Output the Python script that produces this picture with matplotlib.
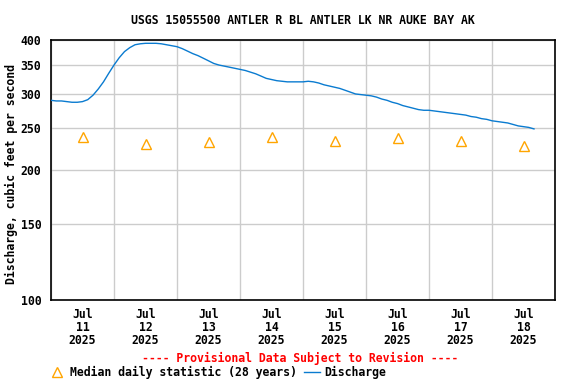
import matplotlib
matplotlib.use("Agg")
import matplotlib.pyplot as plt
import matplotlib.dates as mdates
from matplotlib.lines import Line2D
from matplotlib.ticker import FixedLocator, NullLocator, FuncFormatter
import pandas as pd

title = "USGS 15055500 ANTLER R BL ANTLER LK NR AUKE BAY AK"
ylabel = "Discharge, cubic feet per second"

# Discharge, every 2 hours starting 2025-07-11 00:00
discharge = [
    290, 289, 289, 288, 287, 287, 288, 291, 298, 308, 320, 335,   # Jul 11
    350, 364, 376, 384, 390, 392, 393, 393, 393, 392, 390, 388,   # Jul 12
    386, 382, 377, 372, 368, 363, 358, 353, 350, 348, 346, 344,   # Jul 13
    342, 340, 337, 334, 330, 326, 324, 322, 321, 320, 320, 320,   # Jul 14
    320, 321, 320, 318, 315, 313, 311, 309, 306, 303, 300, 299,   # Jul 15
    298, 297, 295, 292, 290, 287, 285, 282, 280, 278, 276, 275,   # Jul 16
    275, 274, 273, 272, 271, 270, 269, 268, 266, 265, 263, 262,   # Jul 17
    260, 259, 258, 257, 255, 253, 252, 251, 249,                  # Jul 18
]
times = pd.date_range("2025-07-11 00:00", periods=len(discharge), freq="2h")

median_days = ["2025-07-11", "2025-07-12", "2025-07-13", "2025-07-14",
               "2025-07-15", "2025-07-16", "2025-07-17", "2025-07-18"]
median_vals = [238, 230, 232, 238, 233, 237, 233, 227]
median_times = pd.to_datetime(median_days) + pd.Timedelta(hours=12)

yticks = [100, 150, 200, 250, 300, 350, 400]

font = "DejaVu Sans Mono"
fs = 8.3
plt.rcParams["font.family"] = [font]
plt.rcParams["font.weight"] = "bold"
plt.rcParams["font.size"] = fs

fig = plt.figure(figsize=(5.76, 3.84), dpi=100)
ax = fig.add_axes([51/576, 84/384, 504/576, 260/384])

blue = "#0a7bd0"
orange = "#ffa500"

ax.plot(times, discharge, color=blue, lw=1.0, zorder=3)
ax.plot(median_times, median_vals, linestyle="none", marker="^", ms=6.5,
        mfc="none", mec=orange, mew=1.0, zorder=3)

ax.set_yscale("log")
ax.set_ylim(100, 400)
ax.yaxis.set_major_locator(FixedLocator(yticks))
ax.yaxis.set_minor_locator(NullLocator())
ax.yaxis.set_major_formatter(FuncFormatter(lambda v, p: f"{int(round(v))}"))

ax.set_xlim(pd.Timestamp("2025-07-11"), pd.Timestamp("2025-07-19"))
ax.xaxis.set_major_locator(mdates.HourLocator(byhour=[12]))
ax.xaxis.set_major_formatter(mdates.DateFormatter("%b\n%d\n%Y"))
ax.xaxis.set_minor_locator(mdates.DayLocator())

ax.grid(False)
ax.grid(True, which="minor", axis="x", color="#cccccc", lw=1)
ax.grid(True, which="major", axis="y", color="#cccccc", lw=1)
ax.set_axisbelow(True)
ax.tick_params(axis="both", which="both", length=0)
ax.tick_params(axis="y", pad=7)
ax.tick_params(axis="x", pad=6)
for lab in ax.get_xticklabels() + ax.get_yticklabels():
    lab.set_fontweight("bold")
    lab.set_fontsize(fs)
for lab in ax.get_xticklabels():
    lab.set_linespacing(1.0)
for s in ax.spines.values():
    s.set_color("black")
    s.set_linewidth(1.2)

ax.set_ylabel(ylabel, fontsize=fs, fontweight="bold")
ax.yaxis.set_label_coords(-0.066, 0.483)
fig.text(303/576, 1 - 20/384, title, ha="center", va="center",
         fontsize=fs, fontweight="bold")
fig.text(300/576, 1 - 358/384, "---- Provisional Data Subject to Revision ----",
         ha="center", va="center", color="red", fontsize=fs, fontweight="bold")

handles = [Line2D([], [], linestyle="none", marker="^", ms=6.5, mfc="none",
                  mec=orange, mew=1.0),
           Line2D([], [], color=blue, lw=1.0)]
labels = ["Median daily statistic (28 years)", "Discharge"]
fig.legend(handles, labels, loc="center left", bbox_to_anchor=(49/576, 1 - 372/384),
           ncol=2, frameon=False, handlelength=1.4, handletextpad=0.4,
           columnspacing=0.6, borderpad=0, borderaxespad=0,
           prop={"family": font, "weight": "bold", "size": fs})

fig.savefig("out.png", dpi=100)
